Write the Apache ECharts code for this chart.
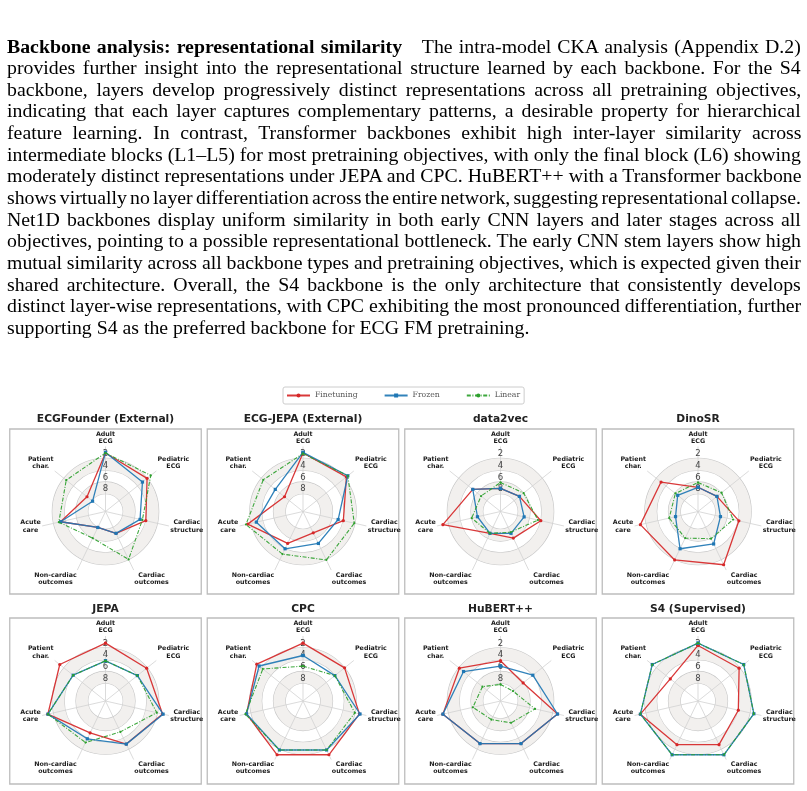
<!DOCTYPE html>
<html>
<head>
<meta charset="utf-8">
<script src="https://cdn.jsdelivr.net/npm/echarts@6/dist/echarts.min.js"></script>
<style>
html,body{margin:0;padding:0;background:#fff;}
#chart{position:absolute;left:0;top:0;width:807px;height:791px;}
#para{position:absolute;left:6.5px;top:36.5px;width:794px;font-family:'Liberation Serif','Times New Roman',serif;font-size:18px;line-height:21.65px;color:#000;}
#para div{white-space:nowrap;transform-origin:0 0;}
</style>
</head>
<body>
<div id="chart"></div>
<div id="para"></div>
<script>
// ---------- text ----------
const paraHeading = 'Backbone analysis: representational similarity';
const paraLines = [
  'The intra-model CKA analysis (Appendix D.2)',
  'provides further insight into the representational structure learned by each backbone. For the S4',
  'backbone, layers develop progressively distinct representations across all pretraining objectives,',
  'indicating that each layer captures complementary patterns, a desirable property for hierarchical',
  'feature learning. In contrast, Transformer backbones exhibit high inter-layer similarity across',
  'intermediate blocks (L1\u2013L5) for most pretraining objectives, with only the final block (L6) showing',
  'moderately distinct representations under JEPA and CPC. HuBERT++ with a Transformer backbone',
  'shows virtually no layer differentiation across the entire network, suggesting representational collapse.',
  'Net1D backbones display uniform similarity in both early CNN layers and later stages across all',
  'objectives, pointing to a possible representational bottleneck. The early CNN stem layers show high',
  'mutual similarity across all backbone types and pretraining objectives, which is expected given their',
  'shared architecture. Overall, the S4 backbone is the only architecture that consistently develops',
  'distinct layer-wise representations, with CPC exhibiting the most pronounced differentiation, further',
  'supporting S4 as the preferred backbone for ECG FM pretraining.'
];

// ---------- chart data ----------
const categories = ['Adult\nECG', 'Pediatric\nECG', 'Cardiac\nstructure', 'Cardiac\noutcomes',
                    'Non-cardiac\noutcomes', 'Acute\ncare', 'Patient\nchar.'];
const models = ['ECGFounder (External)', 'ECG-JEPA (External)', 'data2vec', 'DinoSR',
                'JEPA', 'CPC', 'HuBERT++', 'S4 (Supervised)'];
const radiusTickLabels = [2, 4, 6, 8];
const seriesNames = ['Finetuning', 'Frozen', 'Linear'];

const finetuning = [
  [1.1, 2.0, 4.0, 6.9, 8.0, 3.2, 7.0],
  [1.1, 1.6, 4.0, 7.0, 5.0, 1.4, 7.0],
  [7.1, 6.9, 4.0, 6.0, 6.9, 1.0, 5.0],
  [6.9, 6.9, 3.9, 1.0, 1.9, 1.0, 3.0],
  [1.2, 2.1, 1.1, 2.9, 5.0, 1.0, 1.1],
  [1.2, 2.0, 1.2, 0.9, 0.9, 1.2, 1.0],
  [4.2, 6.1, 1.1, 3.0, 3.0, 1.0, 2.1],
  [1.6, 2.1, 4.0, 2.8, 2.8, 1.0, 5.0]
];
const frozen = [
  [1.0, 3.0, 5.0, 6.9, 8.0, 3.2, 8.2],
  [1.0, 1.3, 4.9, 5.0, 4.0, 2.9, 5.0],
  [7.1, 6.9, 6.9, 6.9, 6.9, 7.0, 5.0],
  [6.9, 6.9, 7.1, 4.9, 4.0, 7.1, 6.6],
  [4.2, 4.1, 1.0, 2.9, 3.9, 1.0, 4.0],
  [3.3, 4.1, 1.1, 1.8, 1.8, 1.2, 1.5],
  [5.1, 4.0, 1.1, 3.0, 3.0, 1.0, 3.0],
  [1.2, 1.1, 1.3, 0.9, 0.9, 1.0, 1.1]
];
const linear = [
  [1.1, 1.2, 4.6, 2.0, 6.0, 2.9, 2.5],
  [1.2, 1.3, 2.1, 1.9, 3.0, 1.1, 2.4],
  [6.1, 6.0, 4.5, 7.1, 6.9, 6.0, 6.8],
  [6.1, 5.9, 4.9, 5.9, 6.0, 6.0, 6.1],
  [4.2, 4.1, 2.1, 5.2, 3.2, 1.0, 4.0],
  [5.1, 4.1, 2.0, 1.8, 1.8, 1.0, 2.3],
  [8.2, 8.3, 5.0, 6.9, 7.5, 6.2, 7.1],
  [1.2, 1.1, 1.3, 0.9, 0.9, 1.0, 1.1]
];

// ---------- paragraph layout (justified lines) ----------
(function () {
  const para = document.getElementById('para');
  const W = 794;
  const SX = 1.1;
  paraLines.forEach((t, i) => {
    const d = document.createElement('div');
    const s = document.createElement('span');
    if (i === 0) {
      const b = document.createElement('b');
      b.textContent = paraHeading;
      s.appendChild(b);
      s.appendChild(document.createTextNode('\u2003' + t));
    } else {
      s.textContent = t;
    }
    d.appendChild(s);
    para.appendChild(d);
    d.style.transform = 'scaleX(' + SX + ')';
    if (i < paraLines.length - 1) {
      const w = s.offsetWidth;
      const n = (s.textContent.match(/ /g) || []).length;
      if (n) s.style.wordSpacing = ((W / SX - w) / n) + 'px';
    }
  });
})();

// ---------- chart ----------
const chart = echarts.init(document.getElementById('chart'), null, {renderer: 'canvas', width: 807, height: 791});

const colCenters = [105.5, 303, 500.5, 698];
const rowCenters = [511.5, 701];
const boxTops = [429, 618];
const boxHeights = [165, 166];
const titleTops = [413.6, 603.6];
const R = 65;
const N = categories.length;

const styles = [
  {data: finetuning, color: '#d62728', symbol: 'circle', size: 3.2, type: 'solid', width: 1.3},
  {data: frozen, color: '#1f77b4', symbol: 'rect', size: 3.2, type: 'solid', width: 1.3},
  {data: linear, color: '#2ca02c', symbol: 'circle', size: 2.2, type: [4, 1.6, 1, 1.6], width: 1.1}
];

const polar = [], angleAxis = [], radiusAxis = [], title = [], series = [], graphic = [];
const T = 'rgba(0,0,0,0)';

models.forEach((m, k) => {
  const col = k % 4, row = Math.floor(k / 4);
  const cx = colCenters[col], cy = rowCenters[row];
  polar.push({center: [cx, cy], radius: R});
  angleAxis.push({
    polarIndex: k, type: 'value', min: 0, max: N, interval: 1,
    startAngle: 90, clockwise: true,
    axisLine: {show: false}, axisTick: {show: false},
    splitLine: {show: true, lineStyle: {color: '#d2d2d2', width: 0.8}},
    axisLabel: {
      show: true, margin: 1.5,
      formatter: v => (v < N ? categories[v].split('\n').map(s => '{c|' + s + '}').join('\n') : ''),
      rich: {c: {align: 'center', fontSize: 6.3, fontWeight: 'bold', fontFamily: 'DejaVu Sans', color: '#1a1a1a', lineHeight: 7.3}}
    }
  });
  radiusAxis.push({
    polarIndex: k, type: 'value', inverse: true, min: 0, max: 11, interval: 2,
    axisLine: {show: false}, axisTick: {show: false},
    axisLabel: {
      show: true, margin: 0, align: 'center', verticalAlign: 'bottom',
      formatter: v => (radiusTickLabels.indexOf(v) >= 0 ? String(v) : ''),
      color: '#444', fontSize: 8.5, fontFamily: 'DejaVu Sans'
    },
    splitLine: {show: true, lineStyle: {color: [T, '#c9c9c9', '#c9c9c9', '#c9c9c9', '#c9c9c9', T, T], width: 1.2}},
    splitArea: {show: true, areaStyle: {color: [T, '#f2f0ee', T, '#f2f0ee', T, T]}}
  });
  title.push({
    text: m, left: cx, top: titleTops[row], textAlign: 'center', padding: 0,
    textStyle: {fontFamily: 'DejaVu Sans', fontWeight: 'bold', fontSize: 10.7, color: '#222'}
  });
  graphic.push({
    type: 'rect', silent: true, z: -10,
    shape: {x: cx - 95.75, y: boxTops[row], width: 191.5, height: boxHeights[row]},
    style: {fill: 'none', stroke: '#bdbdbd', lineWidth: 1.3}
  });
  styles.forEach((st, si) => {
    const vals = st.data[k];
    const pts = vals.map((v, i) => [v, i]);
    pts.push([vals[0], N]);
    series.push({
      type: 'line', name: seriesNames[si], coordinateSystem: 'polar', polarIndex: k,
      data: pts, symbol: st.symbol, symbolSize: st.size, showSymbol: true,
      lineStyle: {color: st.color, width: st.width, type: st.type, opacity: 0.92},
      itemStyle: {color: st.color},
      z: 3 + si, animation: false, silent: true
    });
  });
});

chart.setOption({
  animation: false,
  backgroundColor: 'transparent',
  title: title,
  legend: {
    data: seriesNames, left: 283, top: 387,
    itemWidth: 23, itemHeight: 5, itemGap: 26,
    padding: [4.5, 4, 4.5, 3],
    borderColor: '#cccccc', borderWidth: 1, borderRadius: 2,
    textStyle: {fontFamily: 'DejaVu Serif', fontSize: 7.7, color: '#555'}
  },
  polar: polar,
  angleAxis: angleAxis,
  radiusAxis: radiusAxis,
  graphic: graphic,
  series: series
});
</script>
</body>
</html>
